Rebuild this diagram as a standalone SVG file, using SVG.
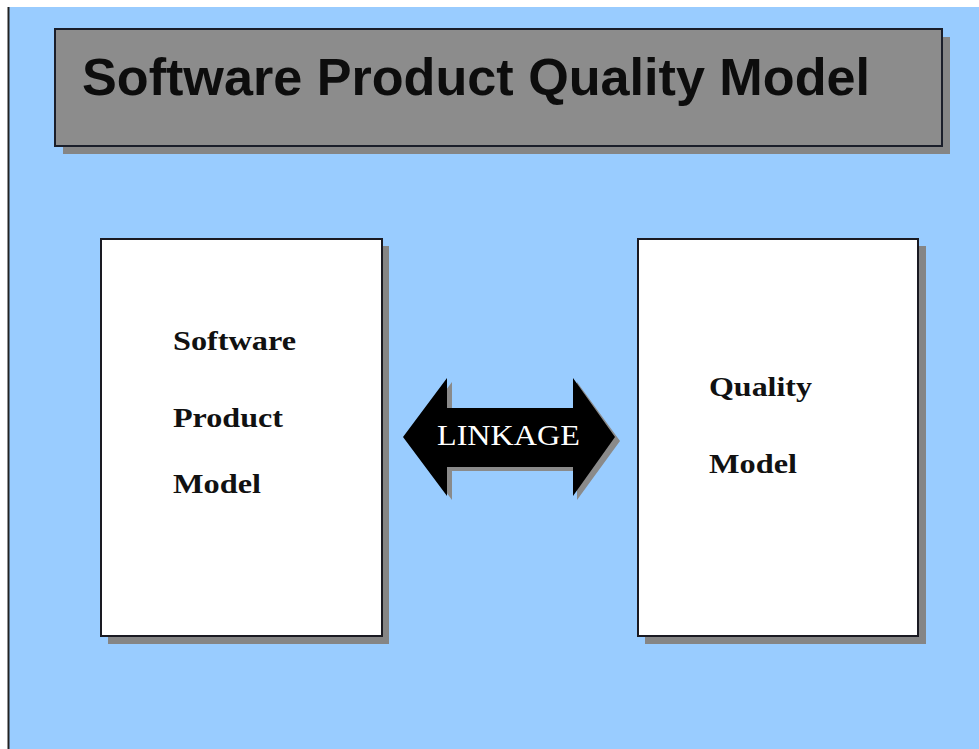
<svg xmlns="http://www.w3.org/2000/svg" width="979" height="749" viewBox="0 0 979 749">
<style>
.shadow{fill:#858585}
.box{fill:#ffffff;stroke:#1a1a22;stroke-width:2}
.lbl{font-family:"Liberation Serif","Times New Roman",serif;font-weight:bold;font-size:27px;fill:#111}
</style>
<rect x="0" y="0" width="979" height="749" fill="#ffffff"/>
<rect x="9" y="7" width="970" height="742" fill="#99ccff"/>
<line x1="8.5" y1="7" x2="8.5" y2="749" stroke="#222" stroke-width="2"/>
<g id="title">
<rect class="shadow" x="63" y="37" width="887" height="117"/>
<rect x="55" y="29" width="887" height="117" fill="#8c8c8c" stroke="#1a1e2a" stroke-width="2"/>
<text x="82" y="95" font-family="Liberation Sans, Arial, sans-serif" font-weight="bold" font-size="52" fill="#0d0d0d" textLength="788" lengthAdjust="spacingAndGlyphs">Software Product Quality Model</text>
</g>
<g id="software-product-model">
<rect class="shadow" x="108" y="246" width="281" height="398"/>
<rect class="box" x="101" y="239" width="281" height="397"/>
<text class="lbl" x="173" y="350" textLength="123" lengthAdjust="spacingAndGlyphs">Software</text>
<text class="lbl" x="173" y="427" textLength="110" lengthAdjust="spacingAndGlyphs">Product</text>
<text class="lbl" x="173" y="493" textLength="88" lengthAdjust="spacingAndGlyphs">Model</text>
</g>
<g id="quality-model">
<rect class="shadow" x="645" y="246" width="281" height="398"/>
<rect class="box" x="638" y="239" width="280" height="397"/>
<text class="lbl" x="709" y="396" textLength="103" lengthAdjust="spacingAndGlyphs">Quality</text>
<text class="lbl" x="709" y="473" textLength="88" lengthAdjust="spacingAndGlyphs">Model</text>
</g>
<g id="connectors">
<g id="linkage">
<polygon points="408,441 452,382 452,412 577,412 577,382 620,441 577,500 577,471 452,471 452,500" fill="#8a8a8a"/>
<polygon points="403,437 447,378 447,408 573,408 573,378 615,437 573,496 573,467 447,467 447,496" fill="#000"/>
<text x="437" y="445" font-family="Liberation Serif, Times New Roman, serif" font-size="30" fill="#ffffff" textLength="143" lengthAdjust="spacingAndGlyphs">LINKAGE</text>
</g>
</g>
</svg>
